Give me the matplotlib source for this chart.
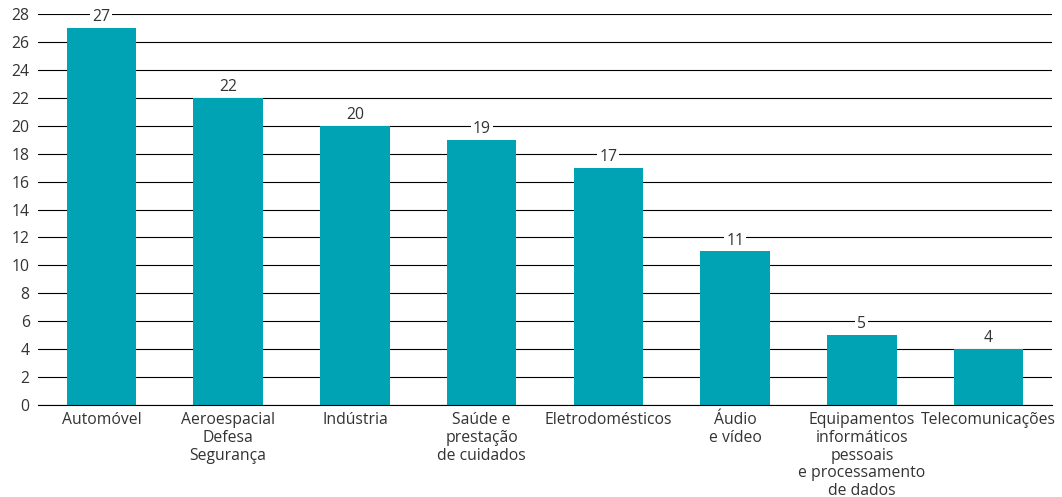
import matplotlib
matplotlib.use("Agg")
import matplotlib.pyplot as plt

categories = ["Automóvel", "Aeroespacial\nDefesa\nSegurança", "Indústria",
              "Saúde e\nprestação\nde cuidados", "Eletrodomésticos", "Áudio\ne vídeo",
              "Equipamentos\ninformáticos\npessoais\ne processamento\nde dados",
              "Telecomunicações"]
values = [27, 22, 20, 19, 17, 11, 5, 4]
yticks = list(range(0, 29, 2))

bar_color = "#00A3B4"
text_color = "#333333"

plt.rcParams['font.family'] = ['Open Sans', 'DejaVu Sans']

fig = plt.figure(figsize=(10.62, 4.97), dpi=100)
ax = fig.add_axes([38/1062, 1 - 405/497, (1052 - 38)/1062, (405 - 14)/497])

x = list(range(len(categories)))
ax.set_axisbelow(True)
ax.yaxis.grid(True, color="black", linewidth=0.8)
bars = ax.bar(x, values, width=0.55, color=bar_color, zorder=2)

for xi, v in zip(x, values):
    ax.annotate(str(v), (xi, v), xytext=(0, 2), textcoords="offset points",
                ha="center", va="bottom", fontsize=11.3, color=text_color,
                bbox=dict(boxstyle="square,pad=0.12", facecolor="white", edgecolor="none"),
                zorder=3)

ax.set_xlim(-0.5, len(categories) - 0.5)
ax.set_ylim(0, 28)
ax.set_yticks(yticks)
ax.set_xticks(x)
ax.set_xticklabels(categories, fontsize=11.3, color=text_color, linespacing=1.15)
ax.tick_params(axis="y", labelsize=11.3, labelcolor=text_color, length=0, pad=6)
ax.tick_params(axis="x", length=0, pad=5)
for s in ["top", "right", "left"]:
    ax.spines[s].set_visible(False)
ax.spines["bottom"].set_color("black")
ax.spines["bottom"].set_linewidth(0.8)

fig.savefig("out.png", dpi=100)
